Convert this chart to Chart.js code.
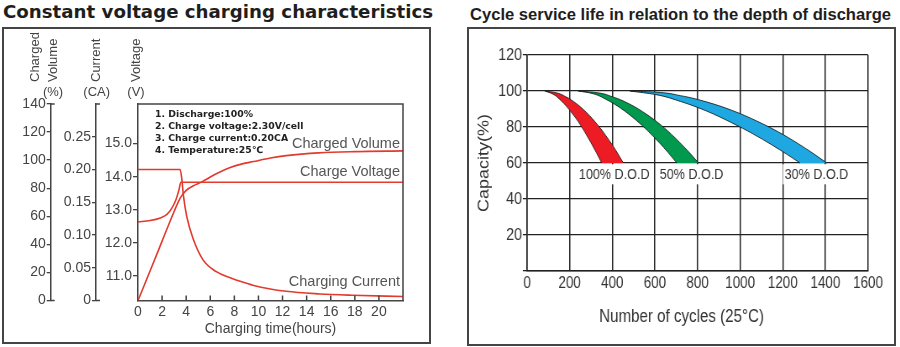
<!DOCTYPE html>
<html>
<head>
<meta charset="utf-8">
<script src="https://cdn.jsdelivr.net/npm/chart.js@4.4.1/dist/chart.umd.min.js"></script>
<style>
  html, body { margin: 0; padding: 0; background: #fff; }
  body { position: relative; width: 900px; height: 347px; overflow: hidden; }
  .heading { position: absolute; white-space: nowrap; transform-origin: 0 0; color: #1e1e1e; }
  #titleLeft { left: 3px; top: 3px; font: bold 18.2px/18.2px "DejaVu Sans", sans-serif; }
  #titleRight { left: 470px; top: 6px; font: bold 16.4px/16.4px "Liberation Sans", Arial, sans-serif; }
  .frame { position: absolute; box-sizing: border-box; border: 2px solid #454545; }
  #frameLeft { left: 2px; top: 27px; width: 429px; height: 317px; }
  #frameRight { left: 467px; top: 27px; width: 429px; height: 319px; }
  #chargeChart { position: absolute; left: 5px; top: 30px; }
  #cycleChart { position: absolute; left: 470px; top: 30px; transform: scaleX(0.84); transform-origin: 0 0; }
</style>
</head>
<body>
<div id="titleLeft" class="heading" data-width="430">Constant voltage charging characteristics</div>
<div id="titleRight" class="heading" data-width="421">Cycle service life in relation to the depth of discharge</div>
<div id="frameLeft" class="frame"></div>
<div id="frameRight" class="frame"></div>
<canvas id="chargeChart" width="424" height="311"></canvas>
<canvas id="cycleChart" width="505" height="313"></canvas>
<script>
// --- charging characteristics (time in hours) ---
const voltageHours = [0, 1, 1.85, 2.4, 2.8, 3.15, 3.4, 3.56, 22];
const chargeVoltage = [12.63, 12.67, 12.75, 12.86, 13.04, 13.3, 13.6, 13.83, 13.83];

const currentHours = [0, 3.5, 3.64, 3.78, 4.05, 4.6, 5.4, 6.5, 7.6, 8.2, 9.6, 12.3, 15.1, 17.8, 22];
const chargeCurrent = [0.2, 0.2, 0.185, 0.159, 0.128, 0.093, 0.062, 0.044, 0.035, 0.031, 0.023, 0.014, 0.010, 0.008, 0.006];

const volumeHours = [0, 1, 2, 3, 3.5, 4, 4.6, 5.3, 6, 6.8, 7.6, 8.5, 9.6, 11, 12.3, 15, 18, 22];
const chargedVolume = [0, 21, 42.3, 63.4, 73, 78.5, 81.8, 84.5, 88, 91.5, 94.5, 97, 99, 101.5, 103.2, 105.2, 106.1, 106.6];

const voltageTicks = [11, 12, 13, 14, 15];
const currentTicks = [0, 0.05, 0.1, 0.15, 0.2, 0.25];

const chargeConditions = ['1. Discharge:100%', '2. Charge voltage:2.30V/cell', '3. Charge current:0.20CA', '4. Temperature:25℃'];
const curveNames = ['Charged Volume', 'Charge Voltage', 'Charging Current'];

// --- cycle life: capacity (%) against number of cycles, one band per depth of discharge ---
const dod100InnerCap = [60, 65.8, 71.3, 77.4, 83, 89.4, 94.6, 98.4, 100];
const dod100InnerCycles = [350, 325, 300, 270, 240, 200, 160, 120, 84];
const dod100OuterCap = [60, 64.4, 69.2, 75.2, 81.4, 87.9, 93.1, 96.9, 99.2, 100];
const dod100OuterCycles = [452, 430, 405, 370, 330, 280, 230, 180, 130, 84];

const dod50InnerCap = [60, 66.1, 71.4, 77.5, 84, 90.4, 95.4, 98.8, 100];
const dod50InnerCycles = [703, 660, 620, 570, 510, 440, 370, 300, 240];
const dod50OuterCap = [60, 63.4, 68.5, 74.5, 80.9, 87.1, 92.8, 96.8, 99.2, 100];
const dod50OuterCycles = [804, 780, 740, 690, 630, 560, 480, 400, 320, 240];

const dod30InnerCap = [60, 64.8, 70, 76.2, 82.4, 89, 94.2, 98.1, 100];
const dod30InnerCycles = [1281, 1220, 1150, 1060, 960, 840, 720, 600, 483];
const dod30OuterCap = [60, 65.1, 70.9, 77.2, 83.2, 89.3, 94, 97.4, 99.4, 100];
const dod30OuterCycles = [1406, 1345, 1270, 1180, 1080, 960, 840, 720, 600, 483];

const dodNames = ['100% D.O.D', '50% D.O.D', '30% D.O.D'];
const dodLabelCycles = [409, 772, 1358];
const cyclesTitle = 'Number of cycles (25°C)';

const sans = '"Liberation Sans", Arial, sans-serif';
const ink = '#444';
const red = '#e23a2d';
const gridInk = '#222';
Chart.defaults.font.family = sans;
Chart.defaults.color = ink;

const pts = (xs, ys) => xs.map((x, i) => ({ x, y: ys[i] }));

// squeeze the html headings to their box width
document.querySelectorAll('.heading').forEach(el => {
  const w = el.getBoundingClientRect().width;
  el.style.transform = `scaleX(${Number(el.dataset.width) / w})`;
});

const redLine = (data, yAxisID) => ({
  data, yAxisID,
  borderColor: red, borderWidth: 1.6, pointRadius: 0, fill: false,
  cubicInterpolationMode: 'monotone'
});

const chargeDecor = {
  id: 'chargeDecor',
  afterDraw(chart) {
    const { ctx, chartArea: a, scales } = chart;
    ctx.save();
    ctx.strokeStyle = ink;
    ctx.lineWidth = 1.5;
    ctx.beginPath();
    // top and right edges of the plot box
    ctx.moveTo(a.left, a.top);
    ctx.lineTo(a.right, a.top);
    ctx.lineTo(a.right, a.bottom);
    // time ticks point up into the plot
    scales.x.ticks.forEach(t => {
      if (t.value === 0 || t.value > 20) return;
      const px = scales.x.getPixelForValue(t.value);
      ctx.moveTo(px, a.bottom);
      ctx.lineTo(px, a.bottom - 5);
    });
    // end caps on the two outer axes
    ['yVol', 'yCur'].forEach(id => {
      const s = scales[id];
      ctx.moveTo(s.right, s.top); ctx.lineTo(s.right + 4, s.top);
      ctx.moveTo(s.right, s.bottom); ctx.lineTo(s.right + 4, s.bottom);
    });
    ctx.stroke();

    // axis headings above each scale
    const headings = [
      { s: scales.yVol, words: [['Charged', -15.7], ['Volume', 2.6]], unit: ['(%)', 2.3] },
      { s: scales.yCur, words: [['Current', 0]], unit: ['(CA)', 0.7] },
      { s: scales.yVolt, words: [['Voltage', -1.3]], unit: ['(V)', -2] }
    ];
    ctx.fillStyle = ink;
    ctx.font = '13px ' + sans;
    headings.forEach(h => {
      h.words.forEach(([word, dx]) => {
        ctx.save();
        ctx.translate(h.s.right + dx, 52);
        ctx.rotate(-Math.PI / 2);
        ctx.textAlign = 'left';
        ctx.textBaseline = 'middle';
        ctx.fillText(word, 0, 0);
        ctx.restore();
      });
      ctx.textAlign = 'center';
      ctx.textBaseline = 'middle';
      ctx.fillText(h.unit[0], h.s.right + h.unit[1], 62);
    });

    // test conditions
    ctx.fillStyle = '#222';
    ctx.font = 'bold 9.3px "DejaVu Sans", sans-serif';
    ctx.textAlign = 'left';
    chargeConditions.forEach((line, i) => {
      ctx.fillText(line, a.left + 17, a.top + 10.5 + i * 12);
    });

    // curve names
    ctx.fillStyle = '#555';
    ctx.font = '14.5px ' + sans;
    ctx.textAlign = 'right';
    const namePos = [15.0, 14.14, 10.8];
    curveNames.forEach((name, i) => {
      ctx.fillText(name, a.right - 3, scales.yVolt.getPixelForValue(namePos[i]));
    });
    ctx.restore();
  }
};

new Chart(document.getElementById('chargeChart'), {
  type: 'line',
  data: {
    datasets: [
      redLine(pts(voltageHours, chargeVoltage), 'yVolt'),
      redLine(pts(currentHours, chargeCurrent), 'yCur'),
      redLine(pts(volumeHours, chargedVolume), 'yVol')
    ]
  },
  options: {
    responsive: false,
    animation: false,
    layout: { padding: { left: 0, top: 74, right: 26, bottom: 3.5 } },
    plugins: { legend: { display: false }, tooltip: { enabled: false } },
    scales: {
      x: {
        type: 'linear', min: 0, max: 22,
        ticks: { stepSize: 2, font: { size: 14 }, padding: 3.5, maxRotation: 0, autoSkip: false,
          callback: v => (v <= 20 ? String(v) : '') },
        grid: { display: false, drawTicks: false },
        border: { color: ink, width: 1.5 },
        title: { display: true, text: 'Charging time(hours)', font: { size: 14 }, padding: 0 },
        afterFit: s => { s.height = 37; }
      },
      yVolt: {
        type: 'linear', position: 'left', weight: 1, min: 10.25, max: 16.2,
        afterBuildTicks: s => { s.ticks = voltageTicks.map(value => ({ value })); },
        ticks: { font: { size: 14 }, padding: 1, callback: v => v.toFixed(1) },
        grid: { drawOnChartArea: false, tickLength: 5, color: ink, lineWidth: 1.3 },
        border: { color: ink, width: 1.5 },
        afterFit: s => { s.width = 42; }
      },
      yCur: {
        type: 'linear', position: 'left', weight: 2, min: 0, max: 0.3,
        afterBuildTicks: s => { s.ticks = currentTicks.map(value => ({ value })); },
        ticks: { font: { size: 14 }, padding: 1, callback: v => (v === 0 ? '0' : v.toFixed(2)) },
        grid: { drawOnChartArea: false, tickLength: 4, color: ink, lineWidth: 1.3 },
        border: { color: ink, width: 1.5 },
        afterFit: s => { s.width = 45.3; }
      },
      yVol: {
        type: 'linear', position: 'left', weight: 3, min: 0, max: 140,
        ticks: { stepSize: 20, font: { size: 14 }, padding: 1, callback: v => String(v) },
        grid: { drawOnChartArea: false, tickLength: 4, color: ink, lineWidth: 1.3 },
        border: { color: ink, width: 1.5 },
        afterFit: s => { s.width = 45.7; }
      }
    }
  },
  plugins: [chargeDecor]
});

// --- cycle life chart ---
const bandEdge = 'rgba(20, 30, 30, 0.85)';
const band = (innerCycles, innerCap, outerCycles, outerCap, color) => [
  { data: pts(innerCycles, innerCap), borderColor: bandEdge, borderWidth: 1, pointRadius: 0,
    fill: false, cubicInterpolationMode: 'monotone' },
  { data: pts(outerCycles, outerCap), borderColor: bandEdge, borderWidth: 1, pointRadius: 0,
    fill: '-1', backgroundColor: color, cubicInterpolationMode: 'monotone' }
];

const cycleDecor = {
  id: 'cycleDecor',
  afterDatasetsDraw(chart) {
    const { ctx, chartArea: a, scales: { x, y } } = chart;
    ctx.save();
    ctx.font = '15px ' + sans;
    ctx.textAlign = 'center';
    ctx.textBaseline = 'middle';
    const cy = y.getPixelForValue(54);
    dodNames.forEach((name, i) => {
      const cx = x.getPixelForValue(dodLabelCycles[i]);
      const w = ctx.measureText(name).width + 4;
      ctx.fillStyle = '#fff';
      ctx.fillRect(cx - w / 2, cy - 9.5, w, 20);
      ctx.fillStyle = '#333';
      ctx.fillText(name, cx, cy + 1);
    });
    ctx.font = '18px ' + sans;
    ctx.fillText(cyclesTitle, (a.left + a.right) / 2 - 19, 287.3);
    ctx.restore();
  }
};

new Chart(document.getElementById('cycleChart'), {
  type: 'line',
  data: {
    datasets: [
      ...band(dod100InnerCycles, dod100InnerCap, dod100OuterCycles, dod100OuterCap, '#ed1c24'),
      ...band(dod50InnerCycles, dod50InnerCap, dod50OuterCycles, dod50OuterCap, '#00994d'),
      ...band(dod30InnerCycles, dod30InnerCap, dod30OuterCycles, dod30OuterCap, '#1ea7e1')
    ]
  },
  options: {
    indexAxis: 'y',
    responsive: false,
    animation: false,
    layout: { padding: { left: 6, right: 31.2, top: 25, bottom: 15 } },
    plugins: { legend: { display: false }, tooltip: { enabled: false } },
    scales: {
      x: {
        type: 'linear', min: 0, max: 1600,
        ticks: { stepSize: 200, color: '#333', font: { size: 16 }, padding: 3, maxRotation: 0, autoSkip: false,
          callback: v => String(v) },
        grid: { color: gridInk, lineWidth: 1.5, drawTicks: false },
        border: { color: gridInk, width: 1.5 },
        afterFit: s => { s.height = 57; }
      },
      y: {
        type: 'linear', min: 0, max: 120,
        ticks: { stepSize: 20, color: '#333', font: { size: 17 }, padding: 1,
          callback: v => (v === 0 ? '' : String(v)) },
        grid: { color: gridInk, lineWidth: 1.3, tickLength: 5 },
        border: { color: gridInk, width: 1.5 },
        title: { display: true, text: 'Capacity(%)', color: '#333', font: { size: 18 }, padding: 0 },
        afterFit: s => { s.width = 61.9; }
      }
    }
  },
  plugins: [cycleDecor]
});
</script>
</body>
</html>
